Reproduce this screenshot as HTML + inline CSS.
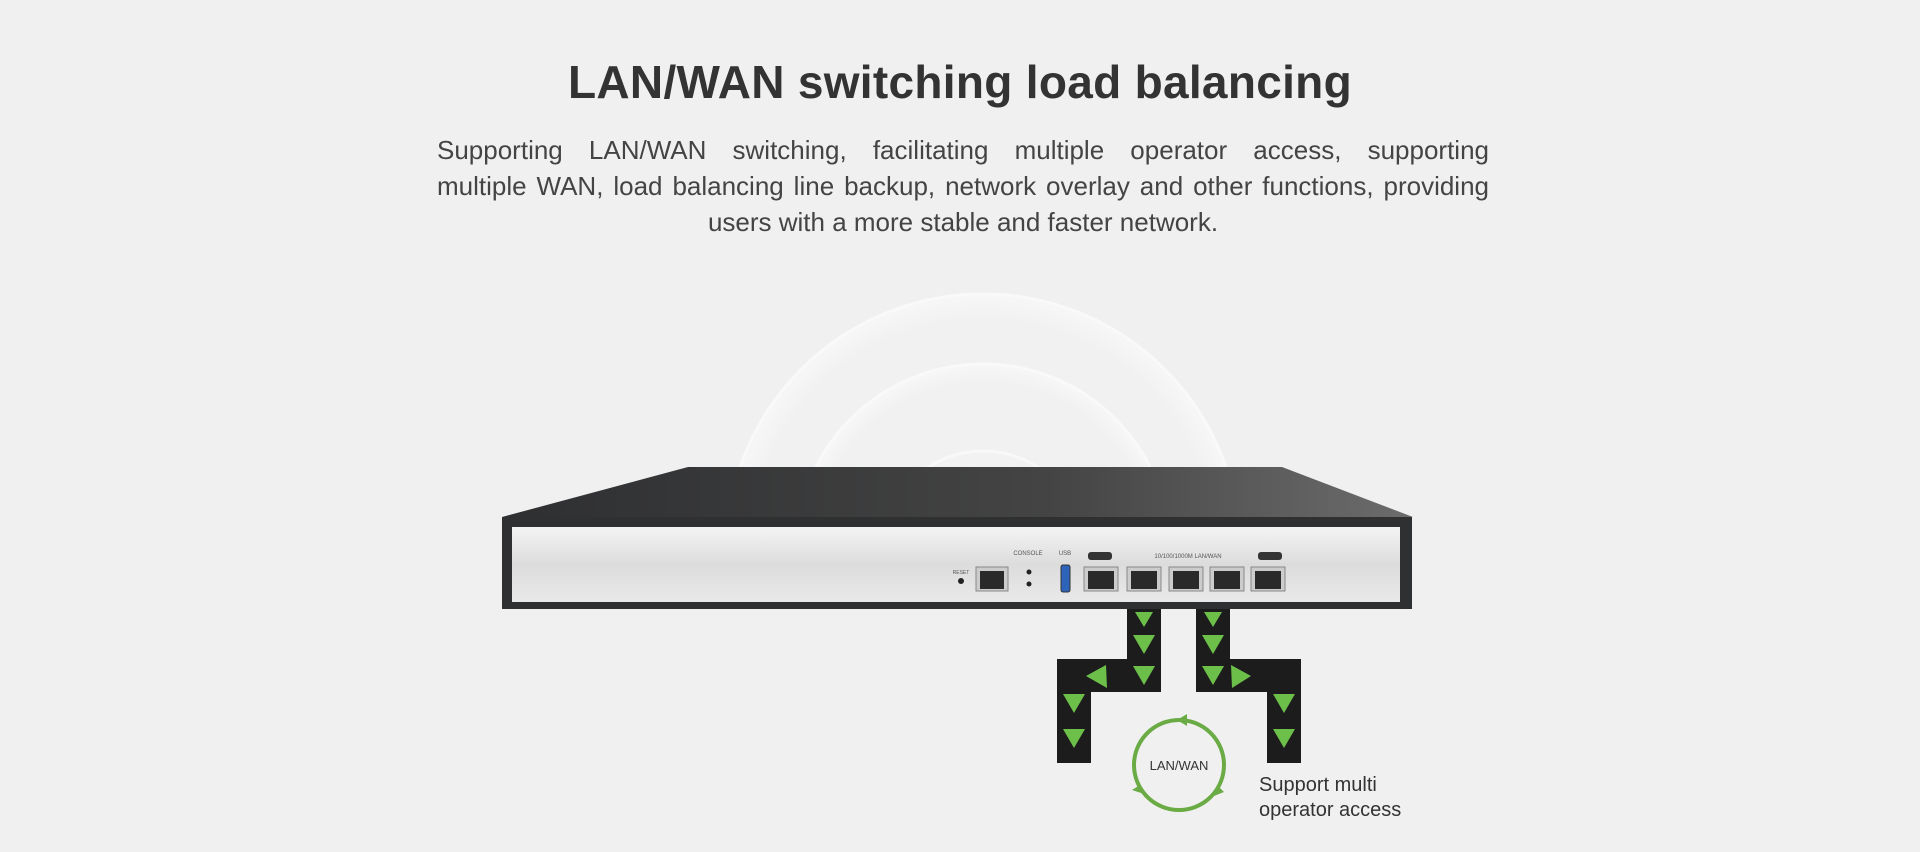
<!DOCTYPE html>
<html><head><style>
body{margin:0;width:1920px;height:852px;background:#f0f0f0;overflow:hidden;position:relative;font-family:"Liberation Sans",sans-serif}
.t{position:absolute;left:0;width:1920px;top:55px;text-align:center;font-size:46px;color:#333;font-weight:bold;letter-spacing:0.3px}
.p{position:absolute;left:437px;width:1052px;top:132px;font-size:26px;line-height:36px;color:#444}
.p div{text-align:justify;text-align-last:justify;white-space:nowrap;height:36px}
.p div.c{text-align:center;text-align-last:center}
.s{position:absolute;left:1259px;top:773px;font-size:20px;line-height:25px;color:#333}
</style></head><body>
<svg width="1920" height="852" style="position:absolute;left:0;top:0">
<defs>
<linearGradient id="top" x1="0" x2="1"><stop offset="0" stop-color="#2e2f31"/><stop offset="0.6" stop-color="#444"/><stop offset="1" stop-color="#6c6c6c"/></linearGradient>
<linearGradient id="pan" x1="0" y1="0" x2="0" y2="1"><stop offset="0" stop-color="#f4f4f4"/><stop offset="0.5" stop-color="#dcdcdc"/><stop offset="1" stop-color="#e9e9e9"/></linearGradient>
<radialGradient id="rg"><stop offset="0.9" stop-color="#f1f1f1"/><stop offset="1" stop-color="#f7f7f7"/></radialGradient>
</defs>
<circle cx="983" cy="551" r="257" fill="url(#rg)" stroke="#f9f9f9" stroke-width="3"/>
<circle cx="983" cy="551" r="187" fill="url(#rg)" stroke="#f9f9f9" stroke-width="3"/>
<circle cx="983" cy="551" r="100" fill="#f2f2f2" stroke="#f8f8f8" stroke-width="3"/>
<rect x="0" y="520" width="1920" height="332" fill="#f0f0f0"/>
<polygon points="688,467 1282,467 1413,517 502,517" fill="url(#top)"/>
<rect x="502" y="517" width="910" height="92" fill="#2f3032"/>
<rect x="512" y="527" width="888" height="75" fill="url(#pan)"/>
<text x="1028" y="555" font-size="6" fill="#555" text-anchor="middle">CONSOLE</text>
<text x="961" y="574" font-size="5" fill="#555" text-anchor="middle">RESET</text>
<circle cx="961" cy="581" r="3" fill="#222"/>
<rect x="976" y="567" width="32" height="24" fill="#ccc" stroke="#888"/><rect x="980" y="571" width="24" height="18" fill="#2a2a2a"/>
<circle cx="1029" cy="572" r="2.5" fill="#222"/><circle cx="1029" cy="584" r="2.5" fill="#222"/>
<text x="1065" y="555" font-size="6" fill="#555" text-anchor="middle">USB</text>
<rect x="1061" y="565" width="9" height="27" rx="2" fill="#2d63b8" stroke="#333"/>
<rect x="1088" y="552" width="24" height="8" rx="3" fill="#333"/><rect x="1258" y="552" width="24" height="8" rx="3" fill="#333"/>
<text x="1188" y="558" font-size="6" fill="#555" text-anchor="middle">10/100/1000M LAN/WAN</text>
<g fill="#ccc" stroke="#888">
<rect x="1084" y="567" width="34" height="24"/><rect x="1127" y="567" width="34" height="24"/><rect x="1169" y="567" width="34" height="24"/><rect x="1210" y="567" width="34" height="24"/><rect x="1251" y="567" width="34" height="24"/></g>
<g fill="#2a2a2a">
<rect x="1088" y="571" width="26" height="18"/><rect x="1131" y="571" width="26" height="18"/><rect x="1173" y="571" width="26" height="18"/><rect x="1214" y="571" width="26" height="18"/><rect x="1255" y="571" width="26" height="18"/></g>
<g fill="#1c1c1c">
<rect x="1127" y="609" width="34" height="83"/><rect x="1057" y="659" width="104" height="33"/><rect x="1057" y="659" width="34" height="104"/>
<rect x="1196" y="609" width="34" height="83"/><rect x="1196" y="659" width="105" height="33"/><rect x="1267" y="659" width="34" height="104"/></g>
<g fill="#6cc04a">
<polygon points="1135,612 1153,612 1144,627"/><polygon points="1133,635 1155,635 1144,654"/><polygon points="1133,666 1155,666 1144,685"/>
<polygon points="1086,676 1106,665 1107,688"/>
<polygon points="1063,694 1085,694 1074,713"/><polygon points="1063,729 1085,729 1074,748"/>
<polygon points="1204,612 1222,612 1213,627"/><polygon points="1202,635 1224,635 1213,654"/><polygon points="1202,666 1224,666 1213,685"/>
<polygon points="1251,676 1231,665 1232,688"/>
<polygon points="1273,694 1295,694 1284,713"/><polygon points="1273,729 1295,729 1284,748"/></g>
<circle cx="1179" cy="765" r="45" fill="none" stroke="#6aab45" stroke-width="4"/>
<g fill="#6aab45"><polygon points="1177,720 1187,714 1187,726"/><polygon points="1140,785 1132,790 1144,794"/><polygon points="1217,785 1214,796 1224,792"/></g>
<text x="1179" y="770" font-size="13" fill="#333" text-anchor="middle" font-family="Liberation Sans">LAN/WAN</text>
</svg>
<div class="t">LAN/WAN switching load balancing</div>
<div class="p"><div>Supporting LAN/WAN switching, facilitating multiple operator access, supporting</div><div>multiple WAN, load balancing line backup, network overlay and other functions, providing</div><div class="c">users with a more stable and faster network.</div></div>
<div class="s">Support multi<br>operator access</div>
</body></html>
